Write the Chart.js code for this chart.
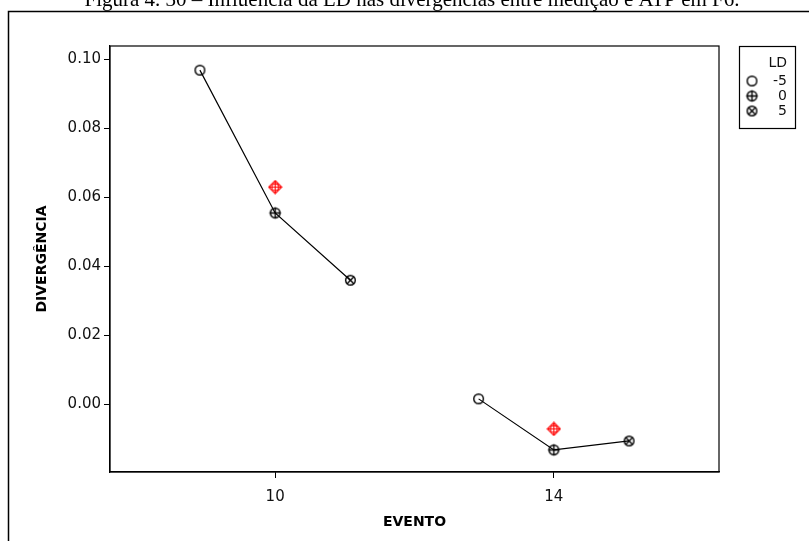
<!DOCTYPE html>
<html>
<head>
<meta charset="utf-8">
<script src="https://cdn.jsdelivr.net/npm/chart.js@4.4.1/dist/chart.umd.min.js"></script>
<style>
  html, body { margin: 0; padding: 0; background: #fff; }
  #wrap { width: 809px; height: 541px; position: relative; }
</style>
</head>
<body>
<div id="wrap"><canvas id="grafico" width="809" height="541"></canvas></div>
<script>
// --- dados ---
const eventos = [10, 14];
const niveisLD = ['-5', '0', '5'];
const divEvento10 = [0.0968, 0.0554, 0.0359];   // LD -5, 0, 5
const divEvento14 = [0.0015, -0.0133, -0.0107];
const divATP = [0.0629, -0.0072];               // marcador vermelho em cada evento
const ticksY = [0.00, 0.02, 0.04, 0.06, 0.08, 0.10];
const ticksX = [10, 14];

const tituloFigura = 'Figura 4. 30 – Influência da LD nas divergências entre medição e ATP em F6.';
const deslocLD = [-1.08, 0, 1.08]; // afastamento horizontal de cada nível de LD

// --- marcadores desenhados em canvas pequenos ---
function marcador(tipo, cor) {
  const c = document.createElement('canvas');
  c.width = 15; c.height = 15;
  const g = c.getContext('2d');
  g.strokeStyle = cor; g.lineWidth = 1.4;
  const m = 7.5, r = 4.8;
  if (tipo === 'diamante') {
    g.lineWidth = 1.1;
    g.beginPath();
    g.moveTo(m, m - 6.5); g.lineTo(m + 6.5, m); g.lineTo(m, m + 6.5); g.lineTo(m - 6.5, m); g.closePath();
    g.stroke();
    g.beginPath(); g.arc(m, m, 3.4, 0, Math.PI * 2); g.stroke();
    g.beginPath(); g.moveTo(m, m - 6.5); g.lineTo(m, m + 6.5); g.moveTo(m - 6.5, m); g.lineTo(m + 6.5, m); g.stroke();
    return c;
  }
  g.beginPath(); g.arc(m, m, r, 0, Math.PI * 2); g.stroke();
  if (tipo === 'mais') {
    g.beginPath(); g.moveTo(m, m - r - 1); g.lineTo(m, m + r + 1); g.moveTo(m - r - 1, m); g.lineTo(m + r + 1, m); g.stroke();
  }
  if (tipo === 'xis') {
    const d = r * 0.72;
    g.beginPath(); g.moveTo(m - d, m - d); g.lineTo(m + d, m + d); g.moveTo(m + d, m - d); g.lineTo(m - d, m + d); g.stroke();
  }
  return c;
}
const estilosLD = [marcador('circulo', '#000'), marcador('mais', '#000'), marcador('xis', '#000')];
const estiloATP = marcador('diamante', '#ff0000');

function pontos(evento, valores) {
  return valores.map((v, i) => ({ x: evento + deslocLD[i], y: v }));
}

const fonteTexto = "'DejaVu Sans', Verdana, sans-serif";

// moldura externa, título cortado, borda do gráfico e legenda
const extras = {
  id: 'extras',
  afterDraw(chart) {
    const ctx = chart.ctx;
    const a = chart.chartArea;
    ctx.save();
    ctx.strokeStyle = '#000';
    ctx.lineWidth = 1.5;
    ctx.strokeRect(8.5, 11.5, 900, 700);

    ctx.fillStyle = '#000';
    ctx.font = "21px 'Liberation Serif', 'Times New Roman', serif";
    ctx.textAlign = 'center';
    ctx.textBaseline = 'alphabetic';
    ctx.fillText(tituloFigura, 412, 6);

    ctx.lineWidth = 1.2;
    ctx.strokeRect(a.left, a.top, a.right - a.left, a.bottom - a.top);

    // legenda
    const bx = 739.5, by = 46.5, bw = 56, bh = 82;
    ctx.strokeRect(bx, by, bw, bh);
    ctx.fillStyle = '#111';
    ctx.font = "14px " + fonteTexto;
    ctx.textAlign = 'right';
    ctx.textBaseline = 'middle';
    ctx.fillText('LD', 787, 63);
    niveisLD.forEach((nivel, i) => {
      const y = 81 + i * 15;
      ctx.drawImage(estilosLD[i], 752 - 7.5, y - 7.5);
      ctx.fillText(nivel, 787, y);
    });
    ctx.restore();
  }
};

new Chart(document.getElementById('grafico'), {
  type: 'scatter',
  data: {
    datasets: [
      {
        label: 'Evento 10',
        data: pontos(eventos[0], divEvento10),
        showLine: true,
        borderColor: '#000',
        borderWidth: 1.2,
        pointStyle: estilosLD,
        pointRadius: 5
      },
      {
        label: 'Evento 14',
        data: pontos(eventos[1], divEvento14),
        showLine: true,
        borderColor: '#000',
        borderWidth: 1.2,
        pointStyle: estilosLD,
        pointRadius: 5
      },
      {
        label: 'ATP',
        data: eventos.map((e, i) => ({ x: e, y: divATP[i] })),
        showLine: false,
        pointStyle: estiloATP,
        pointRadius: 6
      }
    ]
  },
  options: {
    responsive: false,
    animation: false,
    layout: { padding: { top: 46, right: 90, left: 0, bottom: 0 } },
    plugins: {
      legend: { display: false },
      tooltip: { enabled: false }
    },
    scales: {
      x: {
        type: 'linear',
        min: 7.63,
        max: 16.37,
        afterBuildTicks: s => { s.ticks = ticksX.map(v => ({ value: v })); },
        afterFit: s => { s.height = 69; },
        grid: { drawOnChartArea: false, drawTicks: true, tickLength: 6, tickColor: '#000' },
        border: { display: true, color: '#000', width: 1.2 },
        ticks: { color: '#111', font: { family: fonteTexto, size: 15 }, padding: 10, maxRotation: 0 },
        title: { display: true, text: 'EVENTO', color: '#000', font: { family: fonteTexto, size: 14, weight: 'bold' }, padding: { top: 0, bottom: 10 } }
      },
      y: {
        min: -0.0197,
        max: 0.1038,
        afterBuildTicks: s => { s.ticks = ticksY.map(v => ({ value: v })); },
        afterFit: s => { s.width = 110; },
        grid: { drawOnChartArea: false, drawTicks: true, tickLength: 6, tickColor: '#000' },
        border: { display: true, color: '#000', width: 1.2 },
        ticks: { color: '#111', font: { family: fonteTexto, size: 15 }, padding: 3, callback: v => v.toFixed(2) },
        title: { display: true, text: 'DIVERGÊNCIA', color: '#000', font: { family: fonteTexto, size: 14, weight: 'bold' }, padding: { top: 34, bottom: 0 } }
      }
    }
  },
  plugins: [extras]
});
</script>
</body>
</html>
